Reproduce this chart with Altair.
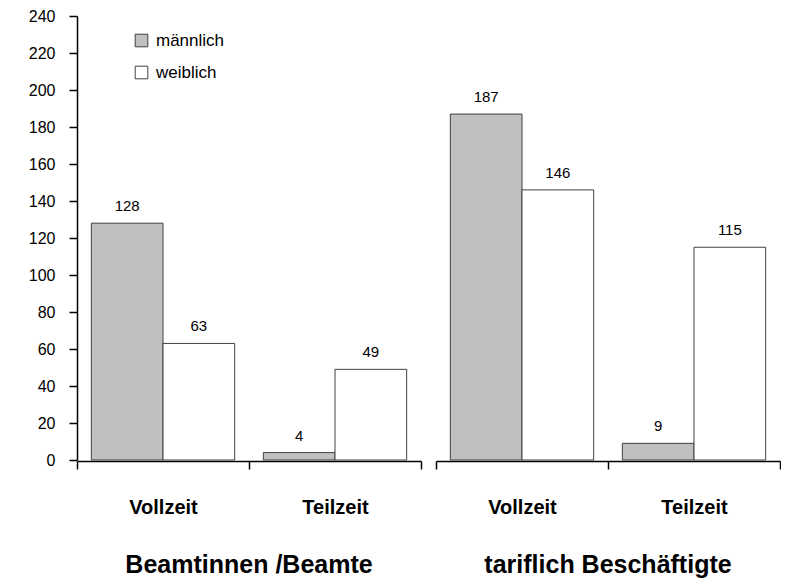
import altair as alt
import pandas as pd

groups = ["Beamtinnen /Beamte", "Beamtinnen /Beamte", "Beamtinnen /Beamte", "Beamtinnen /Beamte",
          "tariflich Beschäftigte", "tariflich Beschäftigte", "tariflich Beschäftigte", "tariflich Beschäftigte"]
zeiten = ["Vollzeit", "Vollzeit", "Teilzeit", "Teilzeit", "Vollzeit", "Vollzeit", "Teilzeit", "Teilzeit"]
geschlecht = ["männlich", "weiblich", "männlich", "weiblich", "männlich", "weiblich", "männlich", "weiblich"]
werte = [128, 63, 4, 49, 187, 146, 9, 115]

group_order = ["Beamtinnen /Beamte", "tariflich Beschäftigte"]
zeit_order = ["Vollzeit", "Teilzeit"]
sex_order = ["männlich", "weiblich"]
y_ticks = [0, 20, 40, 60, 80, 100, 120, 140, 160, 180, 200, 220, 240]

df = pd.DataFrame({"gruppe": groups, "zeit": zeiten, "geschlecht": geschlecht, "wert": werte})

FONT = "Liberation Sans"

x_enc = alt.X("zeit:N", sort=zeit_order, title=None,
              scale=alt.Scale(paddingInner=0, paddingOuter=0),
              axis=alt.Axis(tickBand="extent", labelAngle=0, labelFontSize=20, labelFontWeight="bold",
                            labelColor="black", domainColor="black", tickColor="black",
                            tickSize=8, labelPadding=28, domainWidth=1.5, tickWidth=1.5))
xo_enc = alt.XOffset("geschlecht:N", sort=sex_order,
                     scale=alt.Scale(paddingInner=0, paddingOuter=0.2))
y_enc = alt.Y("wert:Q", title=None,
              scale=alt.Scale(domain=[0, 240], nice=False),
              axis=alt.Axis(values=y_ticks, tickCount=50, grid=False, labelFontSize=16, labelColor="black",
                            labelOverlap=False, labelFlush=False,
                            domainColor="black", tickColor="black", tickSize=8, labelPadding=14,
                            domainWidth=1.5, tickWidth=1.5))

bars = alt.Chart().mark_bar(stroke="#404040", strokeWidth=1).encode(
    x=x_enc, xOffset=xo_enc, y=y_enc,
    fill=alt.Fill("geschlecht:N", sort=sex_order,
                  scale=alt.Scale(domain=sex_order, range=["#c0c0c0", "#ffffff"]),
                  legend=alt.Legend(orient="none", legendX=56, legendY=16, title=None,
                                    symbolType="square", symbolSize=160,
                                    symbolStrokeColor="#404040", symbolStrokeWidth=1,
                                    labelFontSize=17, labelColor="black", rowPadding=14,
                                    labelOffset=6)),
)

labels = alt.Chart().mark_text(baseline="bottom", dy=-9, fontSize=15, color="black").encode(
    x=x_enc, xOffset=xo_enc, y=y_enc, text="wert:Q",
)

chart = alt.layer(bars, labels, data=df).properties(width=344, height=444).facet(
    column=alt.Column("gruppe:N", sort=group_order, title=None,
                      header=alt.Header(labelOrient="bottom", labelFontSize=25, labelFontWeight="bold",
                                        labelColor="black", labelPadding=36, labelFont=FONT)),
    spacing=15,
).properties(
    padding={"left": 20, "top": 0, "right": 0, "bottom": 0}
).configure(font=FONT).configure_view(stroke=None)

chart.save("out.html", embed_options={"renderer": "svg", "actions": False})
